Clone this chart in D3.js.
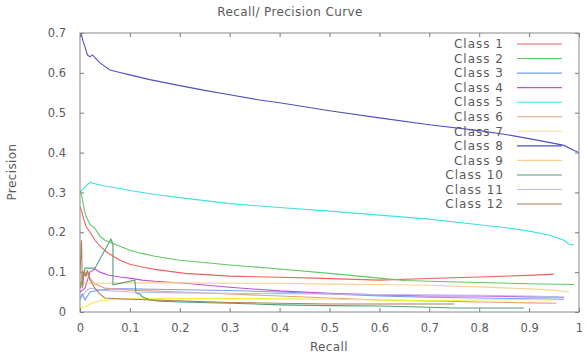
<!DOCTYPE html>
<html>
<head>
<meta charset="utf-8">
<script src="https://cdn.jsdelivr.net/npm/d3@7"></script>
<style>
  body { margin: 0; background: #fff; }
  text { font-family: "DejaVu Sans", sans-serif; fill: #5a5a5a; }
</style>
</head>
<body>
<div id="chart"></div>
<script>
// data, [recall, precision]
const class1 = [[0,0.265],[0.004,0.25],[0.008,0.23],[0.012,0.215],[0.02,0.2],[0.03,0.18],[0.04,0.165],[0.056,0.148],[0.08,0.13],[0.1,0.12],[0.124,0.113],[0.15,0.107],[0.21,0.097],[0.3,0.09],[0.4,0.087],[0.47,0.085],[0.6,0.08],[0.7,0.084],[0.8,0.088],[0.9,0.092],[0.95,0.095]];
const class2 = [[0,0.305],[0.004,0.29],[0.008,0.26],[0.012,0.24],[0.02,0.22],[0.03,0.21],[0.04,0.19],[0.05,0.18],[0.07,0.17],[0.1,0.155],[0.124,0.147],[0.15,0.14],[0.2,0.13],[0.3,0.118],[0.4,0.108],[0.5,0.097],[0.6,0.085],[0.65,0.079],[0.7,0.077],[0.8,0.074],[0.9,0.071],[0.99,0.069]];
const class3 = [[0,0.035],[0.005,0.045],[0.01,0.03],[0.02,0.05],[0.04,0.055],[0.06,0.058],[0.1,0.058],[0.15,0.057],[0.2,0.056],[0.3,0.054],[0.4,0.05],[0.5,0.045],[0.6,0.04],[0.7,0.037],[0.8,0.035],[0.9,0.033],[0.97,0.032]];
const class4 = [[0,0.05],[0.01,0.06],[0.015,0.08],[0.02,0.1],[0.03,0.108],[0.04,0.1],[0.056,0.093],[0.08,0.088],[0.1,0.085],[0.124,0.08],[0.15,0.077],[0.21,0.072],[0.3,0.062],[0.4,0.053],[0.5,0.047],[0.6,0.043],[0.7,0.04],[0.8,0.04],[0.9,0.038],[0.97,0.037]];
const class5 = [[0,0.295],[0.003,0.305],[0.008,0.31],[0.015,0.32],[0.02,0.325],[0.03,0.322],[0.05,0.316],[0.08,0.31],[0.1,0.305],[0.15,0.295],[0.2,0.287],[0.3,0.272],[0.4,0.262],[0.5,0.253],[0.6,0.243],[0.7,0.233],[0.8,0.219],[0.85,0.212],[0.9,0.203],[0.94,0.193],[0.97,0.18],[0.98,0.17],[0.99,0.168]];
const class6 = [[0,0.06],[0.004,0.1],[0.008,0.09],[0.012,0.1],[0.02,0.085],[0.03,0.07],[0.05,0.06],[0.1,0.055],[0.2,0.05],[0.3,0.045],[0.4,0.04],[0.5,0.035],[0.6,0.03],[0.7,0.028],[0.8,0.025],[0.9,0.023],[0.955,0.022]];
const class7 = [[0,0.01],[0.01,0.013],[0.02,0.02],[0.03,0.025],[0.05,0.03],[0.1,0.033],[0.2,0.034],[0.3,0.034],[0.4,0.033],[0.5,0.032],[0.6,0.03],[0.7,0.028],[0.8,0.03],[0.9,0.031],[0.95,0.03]];
const class8 = [[0,0.69],[0.003,0.695],[0.006,0.68],[0.01,0.665],[0.015,0.645],[0.02,0.64],[0.025,0.645],[0.03,0.638],[0.04,0.625],[0.06,0.607],[0.08,0.601],[0.1,0.595],[0.14,0.583],[0.2,0.568],[0.25,0.556],[0.3,0.545],[0.36,0.532],[0.4,0.525],[0.5,0.505],[0.6,0.487],[0.7,0.47],[0.8,0.455],[0.85,0.446],[0.9,0.435],[0.95,0.423],[0.97,0.418],[0.99,0.405],[1.0,0.4]];
const class9 = [[0,0.06],[0.01,0.075],[0.02,0.072],[0.05,0.072],[0.1,0.073],[0.2,0.073],[0.3,0.072],[0.4,0.072],[0.5,0.07],[0.6,0.069],[0.7,0.067],[0.8,0.063],[0.9,0.058],[0.95,0.055],[0.98,0.05]];
const class10 = [[0,0.06],[0.005,0.08],[0.01,0.11],[0.03,0.11],[0.062,0.183],[0.066,0.17],[0.066,0.068],[0.11,0.08],[0.112,0.048],[0.12,0.045],[0.125,0.038],[0.14,0.03],[0.16,0.027],[0.2,0.025],[0.3,0.022],[0.4,0.018],[0.5,0.016],[0.6,0.015],[0.7,0.012],[0.75,0.01],[0.89,0.01]];
const class11 = [[0,0.03],[0.01,0.05],[0.02,0.06],[0.04,0.055],[0.1,0.05],[0.2,0.048],[0.3,0.047],[0.4,0.046],[0.5,0.045],[0.6,0.044],[0.7,0.043],[0.8,0.042],[0.9,0.04],[0.96,0.038]];
const class12 = [[0,0.1],[0.003,0.18],[0.005,0.06],[0.008,0.1],[0.012,0.09],[0.015,0.105],[0.02,0.08],[0.03,0.06],[0.04,0.045],[0.05,0.035],[0.1,0.032],[0.2,0.028],[0.3,0.024],[0.4,0.022],[0.5,0.02],[0.6,0.02],[0.7,0.02],[0.75,0.02]];

const names = ["Class 1","Class 2","Class 3","Class 4","Class 5","Class 6","Class 7","Class 8","Class 9","Class 10","Class 11","Class 12"];
const colors = ["#f06060","#60c860","#70a0f0","#c050e0","#40e0e0","#e0a080","#f0f030","#5050c0","#f8d090","#50a078","#c0b8f0","#b08050"];
const series = [class1,class2,class3,class4,class5,class6,class7,class8,class9,class10,class11,class12];
const xTicks = [0,0.1,0.2,0.3,0.4,0.5,0.6,0.7,0.8,0.9,1];
const yTicks = [0,0.1,0.2,0.3,0.4,0.5,0.6,0.7];

const W = 588, H = 359;
const margin = {top: 33, right: 9, bottom: 47, left: 80},
    width = W - margin.left - margin.right,
    height = H - margin.top - margin.bottom;

const svg = d3.select("#chart")
    .append("svg")
    .attr("width", W)
    .attr("height", H);

const g = svg.append("g")
    .attr("transform", `translate(${margin.left}, ${margin.top})`);

const x = d3.scaleLinear().domain([0, 1]).range([0, width]);
const y = d3.scaleLinear().domain([0, 0.7]).range([height, 0]);

// title + axis titles
svg.append("text")
    .attr("x", 290).attr("y", 16)
    .attr("text-anchor", "middle")
    .style("font-size", "12px")
    .style("letter-spacing", "0.4px")
    .text("Recall/ Precision Curve");

svg.append("text")
    .attr("x", 329).attr("y", 351)
    .attr("text-anchor", "middle")
    .style("font-size", "12px")
    .style("letter-spacing", "0.4px")
    .text("Recall");

svg.append("text")
    .attr("transform", "translate(16, 172) rotate(-90)")
    .attr("text-anchor", "middle")
    .style("font-size", "12px")
    .style("letter-spacing", "0.4px")
    .text("Precision");

// ticks (inward, on all four sides)
const tickLen = 4;
const axisStyle = a => a.call(s => s.select(".domain").remove())
    .call(s => s.selectAll("line").attr("stroke", "#777"))
    .call(s => s.selectAll("text").style("font-size", "11.5px").style("font-family", "DejaVu Sans").attr("fill", "#5a5a5a"));

g.append("g")
    .attr("transform", `translate(0, ${height})`)
    .call(d3.axisBottom(x).tickValues(xTicks).tickFormat(d3.format("")).tickSizeInner(-tickLen).tickPadding(12))
    .call(axisStyle);
g.append("g")
    .call(d3.axisTop(x).tickValues(xTicks).tickFormat("").tickSizeInner(-tickLen))
    .call(axisStyle);
g.append("g")
    .call(d3.axisLeft(y).tickValues(yTicks).tickFormat(d3.format("")).tickSizeInner(-tickLen).tickPadding(14))
    .call(axisStyle);
g.append("g")
    .attr("transform", `translate(${width}, 0)`)
    .call(d3.axisRight(y).tickValues(yTicks).tickFormat("").tickSizeInner(-tickLen))
    .call(axisStyle);

g.append("clipPath").attr("id", "clip")
    .append("rect").attr("width", width).attr("height", height);

const line = d3.line()
    .x(d => x(d[0]))
    .y(d => y(d[1]));

g.append("g").attr("clip-path", "url(#clip)")
    .selectAll("path")
    .data(series)
    .join("path")
    .attr("d", line)
    .attr("fill", "none")
    .attr("stroke", (d, i) => colors[i])
    .attr("stroke-width", 1.1);

// plot border
g.append("rect")
    .attr("width", width).attr("height", height)
    .attr("fill", "none")
    .attr("stroke", "#888");

// legend
const legend = svg.append("g");
const row = legend.selectAll("g")
    .data(names)
    .join("g")
    .attr("transform", (d, i) => `translate(0, ${44 + i * 14.55})`);
row.append("text")
    .attr("x", 504).attr("dy", "0.35em")
    .attr("text-anchor", "end")
    .style("font-size", "12px")
    .style("letter-spacing", "1px")
    .text(d => d);
row.append("line")
    .attr("x1", 517).attr("x2", 562)
    .attr("stroke", (d, i) => colors[i])
    .attr("stroke-width", 1.1);
</script>
</body>
</html>
